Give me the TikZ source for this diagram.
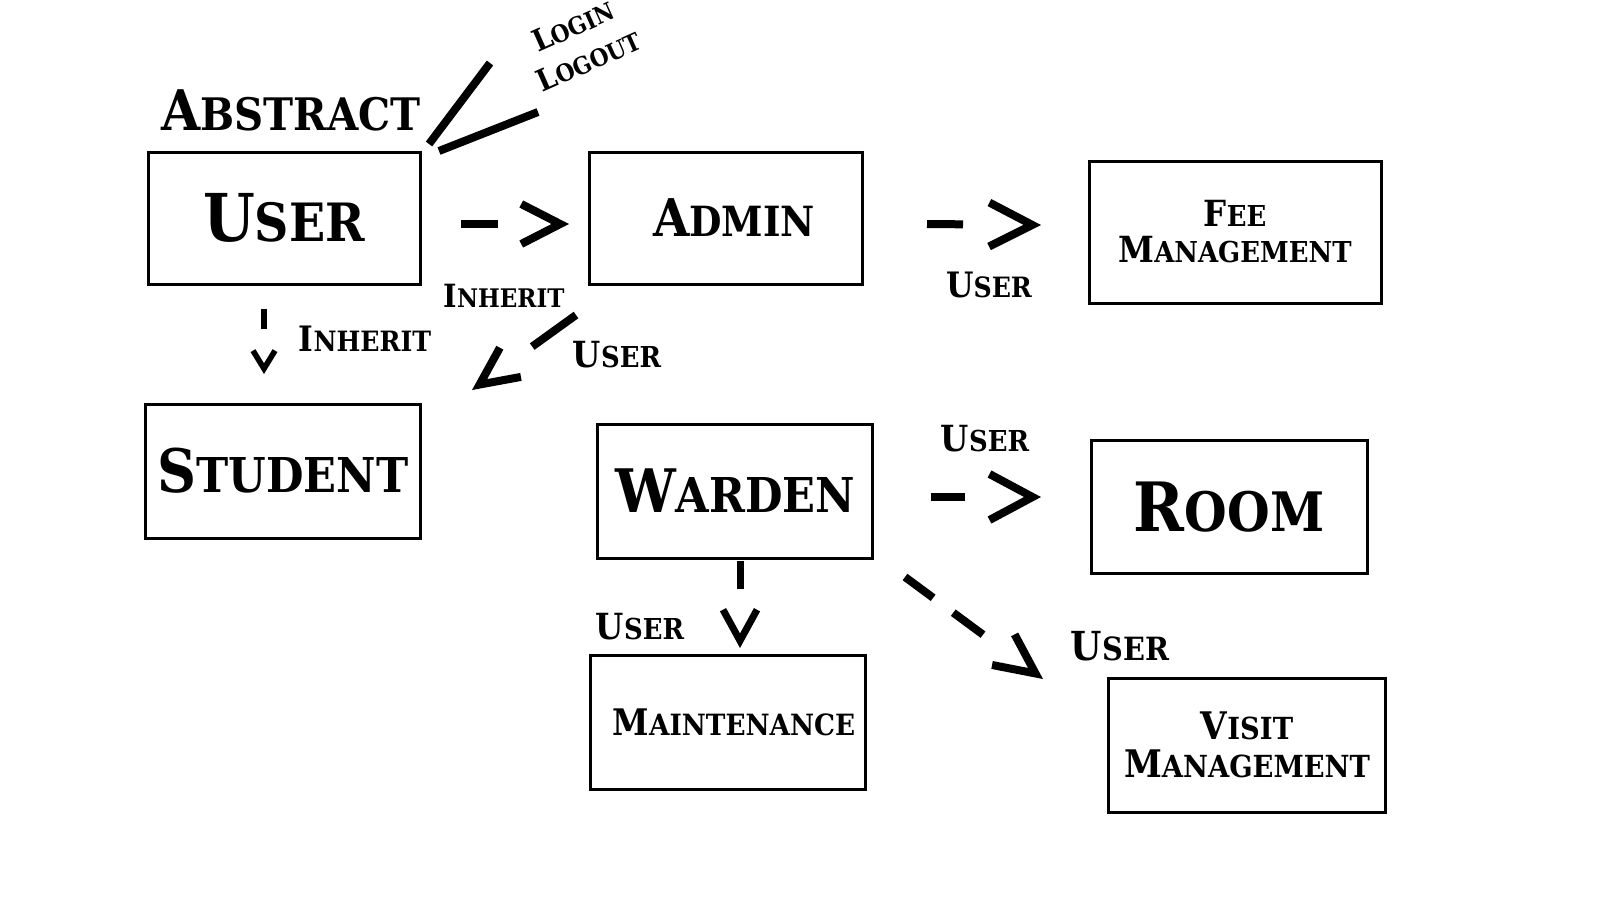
\documentclass[tikz,border=0pt]{standalone}
\usepackage{fontspec}
\setmainfont{DejaVu Serif Condensed}[BoldFont={DejaVu Serif Condensed Bold}]
\usetikzlibrary{arrows.meta}
\newcommand\sk[2]{#1\scalebox{.8}{#2}}

\begin{document}
\begin{tikzpicture}[
		x=0.5pt, y=-0.5pt,
		box/.style={draw, line width=1.5pt, inner sep=0pt, align=center},
		fsz/.style={font=\bfseries\fontsize{#1}{#1}\selectfont},
		lbl/.style={inner sep=0pt, align=center},
		flow/.style={line width=4pt},
		head/.style 2 args={-{Straight Barb[length=#1,width=#2]}}
	]
	\useasboundingbox (0,0) rectangle (1600,900);

	\node[box, fsz=33, minimum width=136pt, minimum height=66pt] (user) at (284,218) {\sk{U}{SER}};
	\node[box, fsz=26, minimum width=136.5pt, minimum height=66pt] (admin) at (726,218) {\hspace*{8pt}\sk{A}{DMIN}};
	\node[box, fsz=18, minimum width=146pt, minimum height=71pt] (fee) at (1235,232) {\sk{F}{EE}\\\sk{M}{ANAGEMENT}};
	\node[box, fsz=30, minimum width=137.5pt, minimum height=67pt] (student) at (283,471) {\sk{S}{TUDENT}};
	\node[box, fsz=30, minimum width=137.5pt, minimum height=67pt] (warden) at (735,491) {\sk{W}{ARDEN}};
	\node[box, fsz=34, minimum width=138pt, minimum height=66.5pt] (room) at (1229,507) {\sk{R}{OOM}};
	\node[box, fsz=18.3, minimum width=137.5pt, minimum height=67pt] (maint) at (728,722) {\hspace*{6pt}\sk{M}{AINTENANCE}};
	\node[box, fsz=19, minimum width=138.5pt, minimum height=67pt] (visit) at (1247,745) {\sk{V}{ISIT}\\\sk{M}{ANAGEMENT}};

	\node[lbl, fsz=28] (abstract) at (291,110) {\sk{A}{BSTRACT}};
	\node[lbl, font=\bfseries\fontsize{15}{19}\selectfont, rotate=24] (logio) at (581,43) {\sk{L}{OGIN}\\\sk{L}{OGOUT}};
	\node[lbl, fsz=16] (inh1) at (504,296) {\sk{I}{NHERIT}};
	\node[lbl, fsz=17.5] (inh2) at (365,339) {\sk{I}{NHERIT}};
	\node[lbl, fsz=18] (lbas) at (617,355) {\sk{U}{SER}};
	\node[lbl, fsz=17.5] (lbaf) at (989,285) {\sk{U}{SER}};
	\node[lbl, fsz=18] (lbwr) at (985,439) {\sk{U}{SER}};
	\node[lbl, fsz=18] (lbwm) at (640,627) {\sk{U}{SER}};
	\node[lbl, fsz=20] (lbwv) at (1120,646) {\sk{U}{SER}};

	\coordinate (lg1) at (490,63);
	\coordinate (lv1) at (429,144);
	\coordinate (lg2) at (538,112);
	\coordinate (lv2) at (439,151);
	\draw[flow] (lg1) -- (lv1);
	\draw[flow] (lg2) -- (lv2);

	\coordinate (ua0) at (461,224);
	\coordinate (ua1) at (569,224);
	\coordinate (af0) at (927,224);
	\coordinate (af1) at (1041,225);
	\coordinate (wr0) at (931,497);
	\coordinate (wr1) at (1041,497);
	\coordinate (us0) at (264,309);
	\coordinate (us1) at (264,374);
	\coordinate (as0) at (576,315);
	\coordinate (as1) at (472,390);
	\coordinate (wm0) at (740,561);
	\coordinate (wm1) at (740,648);
	\coordinate (wv0) at (905,577);
	\coordinate (wv1) at (1043,679);

	\draw[flow, head={19.5pt}{20pt}, dash pattern=on 18.5pt off 200pt] (ua0) -- (ua1);
	\draw[flow, head={21.5pt}{22pt}, dash pattern=on 18pt off 200pt] (af0) -- (af1);
	\draw[flow, head={21.5pt}{23pt}, dash pattern=on 17pt off 200pt] (wr0) -- (wr1);
	\draw[line width=2.8pt, head={9pt}{11pt}, dash pattern=on 10pt off 200pt] (us0) -- (us1);
	\draw[flow, head={19pt}{18pt}, dash pattern=on 27pt off 200pt] (as0) -- (as1);
	\draw[line width=3.5pt, head={15.5pt}{17pt}, dash pattern=on 14pt off 200pt] (wm0) -- (wm1);
	\draw[flow, head={20pt}{19pt}, dash pattern=on 17.5pt off 12.5pt on 18.5pt off 200pt] (wv0) -- (wv1);
\end{tikzpicture}
\end{document}
